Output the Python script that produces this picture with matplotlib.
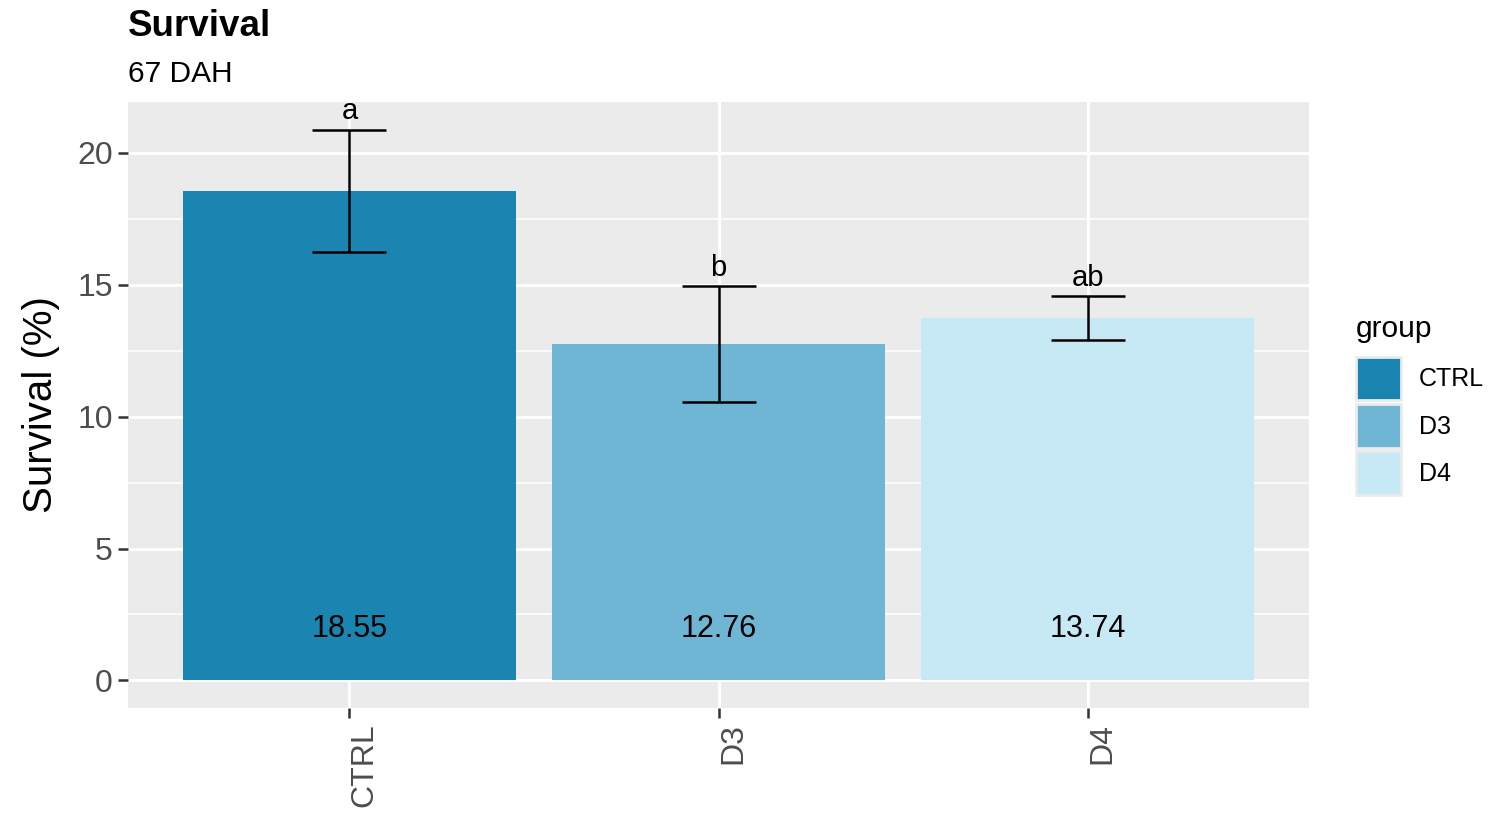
import matplotlib
matplotlib.use("Agg")
import matplotlib.pyplot as plt
from matplotlib.patches import Patch
from matplotlib.ticker import MultipleLocator

plt.rcParams['font.family'] = ['Liberation Sans', 'DejaVu Sans']

groups = ["CTRL", "D3", "D4"]
survival = [18.55, 12.76, 13.74]
err = [2.33, 2.20, 0.82]
letters = ["a", "b", "ab"]
colors = ["#1a85b0", "#6eb6d3", "#c7e9f5"]

fig = plt.figure(figsize=(14.98, 8.15), dpi=100)
ax = fig.add_axes([128/1498, 1 - 708/815, (1309-128)/1498, (708-102)/815])

x = list(range(1, len(groups) + 1))
ax.set_facecolor("#ebebeb")
ax.yaxis.set_major_locator(MultipleLocator(5))
ax.yaxis.set_minor_locator(MultipleLocator(2.5))
ax.grid(which="major", color="white", linewidth=2.2)
ax.grid(which="minor", axis="y", color="white", linewidth=1.1)
ax.set_axisbelow(True)

ax.bar(x, survival, width=0.9, color=colors, edgecolor="none", zorder=2)
ax.errorbar(x, survival, yerr=err, fmt="none", ecolor="black",
            elinewidth=1.8, capsize=26.6, capthick=1.8, zorder=3)

for xi, v, e, lab in zip(x, survival, err, letters):
    ax.annotate(lab, (xi, v + e), xytext=(0, 3), textcoords="offset points",
                ha="center", va="bottom", fontsize=21, color="black")
    ax.text(xi, 1.95, f"{v:.2f}", ha="center", va="center", fontsize=22, color="black")

top = max(v + e for v, e in zip(survival, err))
pad = top * 0.05
ax.set_ylim(-pad, top + pad)
ax.set_xlim(0.4, 3.6)
ax.set_xticks(x)
ax.set_xticklabels(groups, rotation=90, va="top", ha="left")
ax.tick_params(axis="both", colors="#333333", length=7, width=1.8, labelsize=23,
               labelcolor="#4d4d4d", pad=4)
ax.tick_params(axis="y", which="minor", length=0)
for s in ax.spines.values():
    s.set_visible(False)

ax.set_ylabel("Survival (%)", fontsize=29, color="black", labelpad=12)

fig.text(128/1498, 1 - 27/815, "Survival", fontsize=26.5, fontweight="bold",
         ha="left", va="center")
fig.text(128/1498, 1 - 74/815, "67 DAH", fontsize=21.5, ha="left", va="center")

handles = [Patch(facecolor=c, edgecolor="#ebebeb", linewidth=2) for c in colors]
leg = fig.legend(handles, groups, title="group", loc="upper left",
                 bbox_to_anchor=(1336/1498, 1 - 295/815), frameon=False,
                 fontsize=18, title_fontsize=21.5, handlelength=1.8, handleheight=2.33,
                 handletextpad=0.72, labelspacing=0.14, borderpad=0.3)
leg._legend_box.align = "left"
# extra gap between the legend title and the keys
leg._legend_box.sep = 0.14 * 18 + 7.2

fig.savefig("out.png", dpi=100)
